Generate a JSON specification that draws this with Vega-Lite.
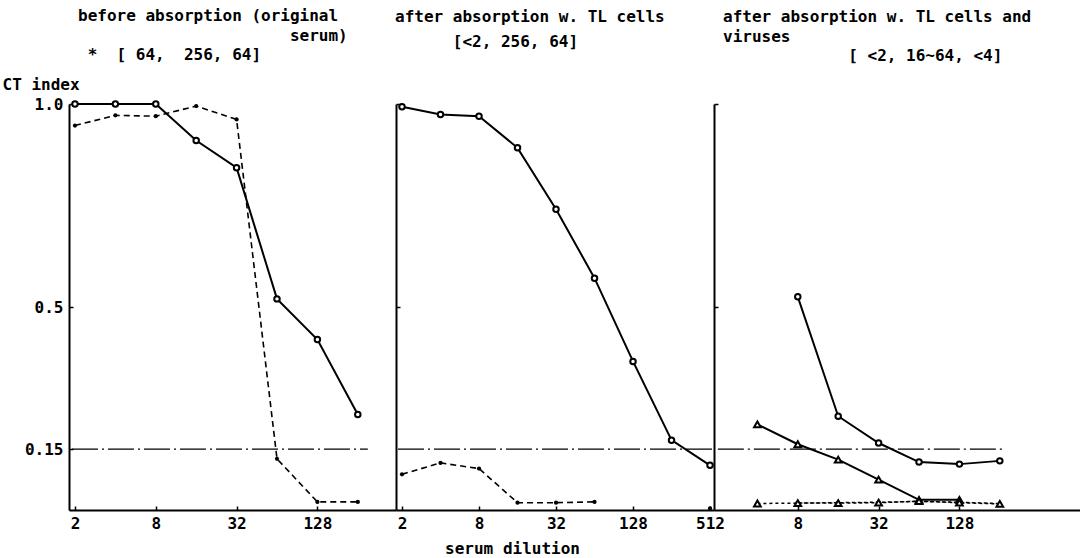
{
  "$schema": "https://vega.github.io/schema/vega-lite/v6.json",
  "background": "white",
  "padding": {"left": 2, "top": 8, "right": 0, "bottom": 0},
  "spacing": 0,
  "bounds": "flush",
  "resolve": {"scale": {"x": "independent", "y": "shared"}},
  "config": {
    "view": {"stroke": null},
    "font": "DejaVu Sans Mono",
    "axis": {
      "domainColor": "black", "domainWidth": 2, "tickColor": "black", "tickWidth": 1.5,
      "labelColor": "black", "labelFont": "DejaVu Sans Mono", "labelFontSize": 16, "labelFontWeight": "bold",
      "grid": false, "titleFont": "DejaVu Sans Mono", "titleColor": "black",
      "titleFontWeight": "bold", "titleFontSize": 16
    },
    "title": {
      "font": "DejaVu Sans Mono", "fontSize": 16, "fontWeight": "bold", "color": "black",
      "anchor": "start", "frame": "group", "subtitleFont": "DejaVu Sans Mono", "subtitleFontWeight": "bold",
      "subtitleFontSize": 16, "subtitleColor": "black", "lineHeight": 20, "subtitleLineHeight": 20,
      "subtitlePadding": 3
    }
  },
  "datasets": {
    "p1": [
      {"series": "A", "dilution": 2, "ct": 1.0},
      {"series": "A", "dilution": 4, "ct": 1.0},
      {"series": "A", "dilution": 8, "ct": 1.0},
      {"series": "A", "dilution": 16, "ct": 0.91},
      {"series": "A", "dilution": 32, "ct": 0.843},
      {"series": "A", "dilution": 64, "ct": 0.52},
      {"series": "A", "dilution": 128, "ct": 0.42},
      {"series": "A", "dilution": 256, "ct": 0.235},
      {"series": "B", "dilution": 2, "ct": 0.947},
      {"series": "B", "dilution": 4, "ct": 0.972},
      {"series": "B", "dilution": 8, "ct": 0.97},
      {"series": "B", "dilution": 16, "ct": 0.995},
      {"series": "B", "dilution": 32, "ct": 0.962},
      {"series": "B", "dilution": 64, "ct": 0.126},
      {"series": "B", "dilution": 128, "ct": 0.02},
      {"series": "B", "dilution": 256, "ct": 0.02}
    ],
    "p2": [
      {"series": "A", "dilution": 2, "ct": 0.993},
      {"series": "A", "dilution": 4, "ct": 0.974},
      {"series": "A", "dilution": 8, "ct": 0.97},
      {"series": "A", "dilution": 16, "ct": 0.892},
      {"series": "A", "dilution": 32, "ct": 0.741},
      {"series": "A", "dilution": 64, "ct": 0.571},
      {"series": "A", "dilution": 128, "ct": 0.366},
      {"series": "A", "dilution": 256, "ct": 0.172},
      {"series": "A", "dilution": 512, "ct": 0.11},
      {"series": "B", "dilution": 2, "ct": 0.088},
      {"series": "B", "dilution": 4, "ct": 0.116},
      {"series": "B", "dilution": 8, "ct": 0.102},
      {"series": "B", "dilution": 16, "ct": 0.018},
      {"series": "B", "dilution": 32, "ct": 0.018},
      {"series": "B", "dilution": 64, "ct": 0.02},
      {"series": "B2", "dilution": 512, "ct": 0.004}
    ],
    "p3": [
      {"series": "A", "dilution": 8, "ct": 0.525},
      {"series": "A", "dilution": 16, "ct": 0.231},
      {"series": "A", "dilution": 32, "ct": 0.165},
      {"series": "A", "dilution": 64, "ct": 0.118},
      {"series": "A", "dilution": 128, "ct": 0.113},
      {"series": "A", "dilution": 256, "ct": 0.121},
      {"series": "C", "dilution": 4, "ct": 0.211},
      {"series": "C", "dilution": 8, "ct": 0.162},
      {"series": "C", "dilution": 16, "ct": 0.124},
      {"series": "C", "dilution": 32, "ct": 0.075},
      {"series": "C", "dilution": 64, "ct": 0.025},
      {"series": "C", "dilution": 128, "ct": 0.025},
      {"series": "D", "dilution": 4, "ct": 0.016},
      {"series": "D", "dilution": 8, "ct": 0.017},
      {"series": "D", "dilution": 16, "ct": 0.017},
      {"series": "D", "dilution": 32, "ct": 0.018},
      {"series": "D", "dilution": 64, "ct": 0.022},
      {"series": "D", "dilution": 128, "ct": 0.018},
      {"series": "D", "dilution": 256, "ct": 0.015},
      {"series": "E", "dilution": 8, "ct": 0.017},
      {"series": "E", "dilution": 16, "ct": 0.018},
      {"series": "E", "dilution": 32, "ct": 0.019},
      {"series": "E", "dilution": 64, "ct": 0.021},
      {"series": "E", "dilution": 128, "ct": 0.019},
      {"series": "E", "dilution": 256, "ct": 0.016}
    ]
  },
  "hconcat": [
    {
      "width": 327, "height": 406,
      "title": {"text": ["before absorption (original", "\u200b\u00a0\u00a0\u00a0\u00a0\u00a0\u00a0\u00a0\u00a0\u00a0\u00a0\u00a0\u00a0\u00a0\u00a0\u00a0\u00a0\u00a0\u00a0\u00a0\u00a0\u00a0\u00a0serum)"], "subtitle": "\u200b\u00a0*\u00a0\u00a0[ 64,\u00a0\u00a0256, 64]", "dx": 9, "offset": 13},
      "data": {"name": "p1"},
      "encoding": {
        "x": {"field": "dilution", "type": "quantitative",
          "scale": {"type": "log", "base": 2, "domain": [1.805, 493], "nice": false},
          "axis": {"values": [2, 8, 32, 128], "format": "d", "title": null, "tickSize": -4, "labelPadding": 9}},
        "y": {"field": "ct", "type": "quantitative",
          "scale": {"domain": [0, 1], "nice": false},
          "axis": {"values": [0.15, 0.5, 1], "labelExpr": "datum.value == 1 ? '1.0' : datum.value == 0.5 ? '0.5' : '0.15'",
            "tickSize": -4, "labelPadding": 10, "title": "CT index", "titleAngle": 0, "titleAlign": "left",
            "titleBaseline": "middle", "titleX": -67, "titleY": -20}}
      },
      "layer": [
        {"data": {"values": [{"dilution": 1.9, "ct": 0.15}, {"dilution": 304, "ct": 0.15}]}, "mark": {"type": "line", "color": "black", "strokeWidth": 1.3, "strokeDash": [26, 4, 2, 4]}, "encoding": {}},
        {"transform": [{"filter": "datum.series === 'A' || datum.series === 'C'"}], "mark": {"type": "line", "color": "black", "strokeWidth": 2}, "encoding": {"detail": {"field": "series", "type": "nominal"}}},
        {"transform": [{"filter": "datum.series === 'B'"}], "mark": {"type": "line", "color": "black", "strokeWidth": 1.6, "strokeDash": [6, 4]}, "encoding": {}},
        {"transform": [{"filter": "datum.series === 'A'"}], "mark": {"type": "point", "shape": "circle", "filled": false, "color": "black", "strokeWidth": 2, "size": 30, "opacity": 1, "fill": "white"}},
        {"transform": [{"filter": "datum.series === 'B' || datum.series === 'B2' || datum.series === 'E'"}], "mark": {"type": "point", "shape": "circle", "filled": true, "color": "black", "size": 18, "opacity": 1}}
      ]
    },
    {
      "width": 318, "height": 406,
      "title": {"text": "after absorption w. TL cells", "subtitle": "\u200b\u00a0\u00a0\u00a0\u00a0\u00a0\u00a0[<2, 256, 64]", "dx": -1, "offset": 50, "subtitlePadding": 9},
      "data": {"name": "p2"},
      "encoding": {
        "x": {"field": "dilution", "type": "quantitative",
          "scale": {"type": "log", "base": 2, "domain": [1.795, 550], "nice": false},
          "axis": {"values": [2, 8, 32, 128, 512], "format": "d", "tickSize": -4, "labelPadding": 9,
            "title": "serum dilution", "titleX": 116, "titleY": 38, "titleAlign": "center", "titleBaseline": "middle"}},
        "y": {"field": "ct", "type": "quantitative",
          "scale": {"domain": [0, 1], "nice": false},
          "axis": {"values": [0.5, 1], "labels": false, "tickSize": -4, "title": null}}
      },
      "layer": [
        {"data": {"values": [{"dilution": 1.86, "ct": 0.15}, {"dilution": 550, "ct": 0.15}]}, "mark": {"type": "line", "color": "black", "strokeWidth": 1.3, "strokeDash": [26, 4, 2, 4]}, "encoding": {}},
        {"transform": [{"filter": "datum.series === 'A' || datum.series === 'C'"}], "mark": {"type": "line", "color": "black", "strokeWidth": 2}, "encoding": {"detail": {"field": "series", "type": "nominal"}}},
        {"transform": [{"filter": "datum.series === 'B'"}], "mark": {"type": "line", "color": "black", "strokeWidth": 1.6, "strokeDash": [6, 4]}, "encoding": {}},
        {"transform": [{"filter": "datum.series === 'A'"}], "mark": {"type": "point", "shape": "circle", "filled": false, "color": "black", "strokeWidth": 2, "size": 30, "opacity": 1, "fill": "white"}},
        {"transform": [{"filter": "datum.series === 'B' || datum.series === 'B2' || datum.series === 'E'"}], "mark": {"type": "point", "shape": "circle", "filled": true, "color": "black", "size": 18, "opacity": 1}}
      ]
    },
    {
      "width": 366, "height": 406,
      "title": {"text": ["after absorption w. TL cells and", "viruses"], "subtitle": "\u200b\u00a0\u00a0\u00a0\u00a0\u00a0\u00a0\u00a0\u00a0\u00a0\u00a0\u00a0\u00a0\u00a0[ <2, 16~64, <4]", "dx": 9, "offset": 39},
      "data": {"name": "p3"},
      "encoding": {
        "x": {"field": "dilution", "type": "quantitative",
          "scale": {"type": "log", "base": 2, "domain": [1.9, 1013], "nice": false},
          "axis": {"values": [8, 32, 128], "format": "d", "title": null, "tickSize": -4, "labelPadding": 9}},
        "y": {"field": "ct", "type": "quantitative",
          "scale": {"domain": [0, 1], "nice": false},
          "axis": {"values": [0.5, 1], "labels": false, "tickSize": -4, "title": null}}
      },
      "layer": [
        {"data": {"values": [{"dilution": 2.03, "ct": 0.15}, {"dilution": 270, "ct": 0.15}]}, "mark": {"type": "line", "color": "black", "strokeWidth": 1.3, "strokeDash": [26, 4, 2, 4]}, "encoding": {}},
        {"transform": [{"filter": "datum.series === 'A' || datum.series === 'C'"}], "mark": {"type": "line", "color": "black", "strokeWidth": 2}, "encoding": {"detail": {"field": "series", "type": "nominal"}}},
        {"transform": [{"filter": "datum.series === 'D' || datum.series === 'E'"}], "mark": {"type": "line", "color": "black", "strokeWidth": 1.5, "strokeDash": [3, 3]}, "encoding": {"detail": {"field": "series", "type": "nominal"}}},
        {"transform": [{"filter": "datum.series === 'A'"}], "mark": {"type": "point", "shape": "circle", "filled": false, "color": "black", "strokeWidth": 2, "size": 30, "opacity": 1, "fill": "white"}},
        {"transform": [{"filter": "datum.series === 'B' || datum.series === 'B2' || datum.series === 'E'"}], "mark": {"type": "point", "shape": "circle", "filled": true, "color": "black", "size": 18, "opacity": 1}},
        {"transform": [{"filter": "datum.series === 'C' || datum.series === 'D'"}], "mark": {"type": "point", "shape": "triangle-up", "filled": false, "color": "black", "strokeWidth": 2, "size": 45, "opacity": 1, "fill": "white"}}
      ]
    }
  ]
}
